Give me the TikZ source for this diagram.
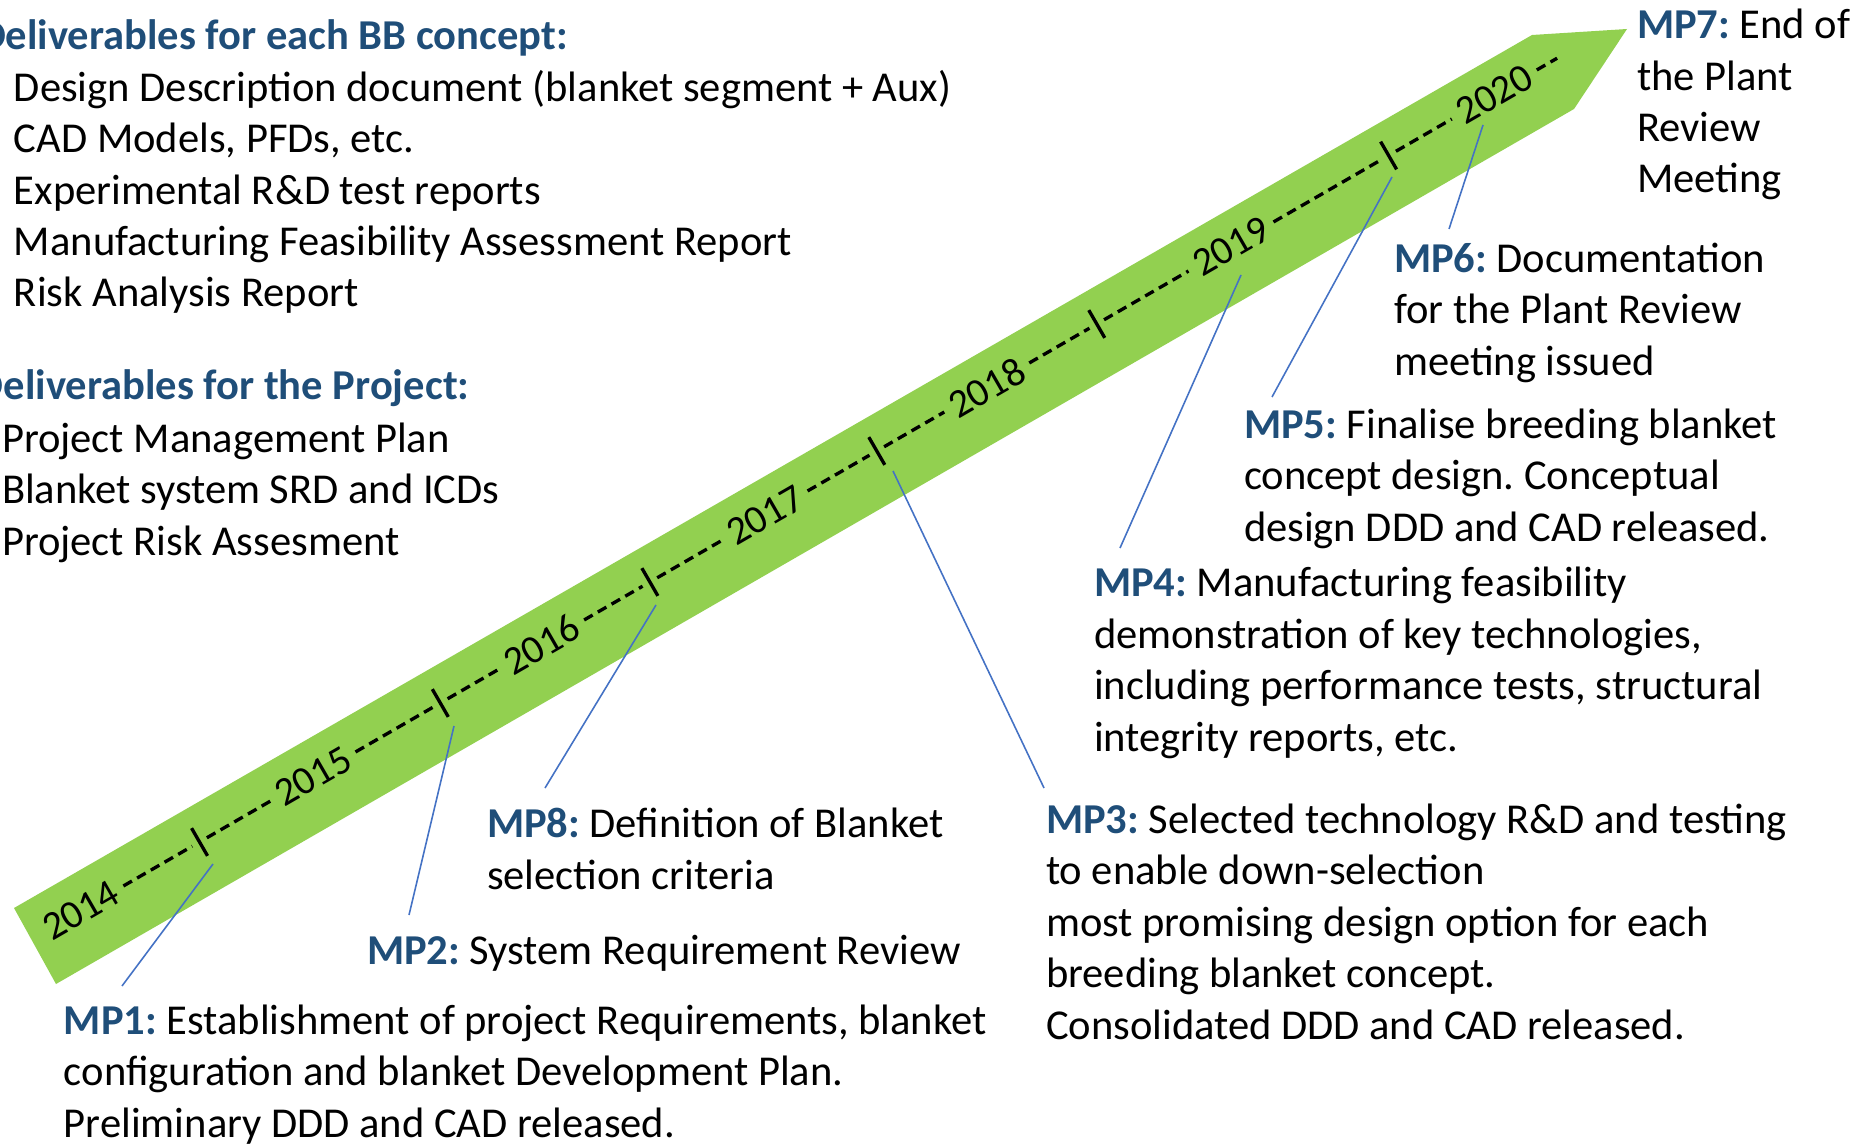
\documentclass[tikz,border=0pt]{standalone}
\usepackage{fontspec}
\setmainfont{Carlito}
\usepackage{xcolor}
\definecolor{BandGreen}{HTML}{92D050}
\definecolor{HeadBlue}{HTML}{1F4E79}
\definecolor{LeadBlue}{HTML}{4472C4}
\usepackage{tikz}
\usetikzlibrary{arrows.meta,positioning}
\newcommand{\mpname}[1]{\textcolor{HeadBlue}{\textbf{#1}}}

\begin{document}
\begin{tikzpicture}[x=0.01cm, y=0.01cm,
  every node/.style={inner sep=0pt, outer sep=0pt},
  txt/.style={anchor=base west, align=left, font=\fontsize{12.1}{14.6}\selectfont\frenchspacing},
  head/.style={txt, font=\fontsize{12.1}{14.6}\selectfont\bfseries, text=HeadBlue},
  year/.style={rotate=30, font=\fontsize{11.4}{13}\selectfont},
  dashline/.style={line width=0.95pt, dash pattern=on 2.8pt off 1.7pt, shorten <=2.4pt, shorten >=2.4pt},
  tickline/.style={line width=0.95pt},
  lead/.style={LeadBlue, line width=0.45pt}]
  \clip (0,0) rectangle (1874,-1143);

  % the green band
  \fill[BandGreen] (14,-908) -- (1532,-35) -- (1627,-29) -- (1574,-109) -- (56,-984) -- cycle;

  % years and ticks along the band
  \begin{scope}[shift={(35,-937)}, rotate=30]
    \node[year] (y14) at (53,0) {2014};
    \node[year] (y15) at (321,0) {2015};
    \node[year] (y16) at (585,0) {2016};
    \node[year] (y17) at (843,0) {2017};
    \node[year] (y18) at (1099,0) {2018};
    \node[year] (y19) at (1381,0) {2019};
    \node[year] (y20) at (1685,0) {2020};
    \coordinate (t1) at (190,0);
    \coordinate (t2) at (468,0);
    \coordinate (t3) at (710,0);
    \coordinate (t4) at (972,0);
    \coordinate (t5) at (1226,0);
    \coordinate (t6) at (1563,0);
    \coordinate (tend) at (1766,0);
  \end{scope}
  \foreach \a/\b in {y14/t1, t1/y15, y15/t2, t2/y16, y16/t3, t3/y17, y17/t4, t4/y18, y18/t5, t5/y19, y19/t6, t6/y20, y20/tend}
    \draw[dashline] (\a) -- (\b);
  \foreach \t in {t1,t2,t3,t4,t5,t6}
    \draw[tickline] (\t) ++(120:16) -- ++(300:32);

  % deliverables (base = last line)
  \node[head] (bbhead) at (-21,-50) {Deliverables for each BB concept:};
  \node[txt] (bblist) at (14,-307) {Design Description document (blanket segment + Aux)\\CAD Models, PFDs, etc.\\Experimental R\&D test reports\\Manufacturing Feasibility Assessment Report\\Risk Analysis Report};
  \node[head] (prhead) at (-23,-399.6) {Deliverables for the Project:};
  \node[txt] (prlist) at (2,-555) {Project Management Plan\\Blanket system SRD and ICDs\\Project Risk Assesment};

  % milestones
  \node[txt] (mp7) at (1637,-193) {\mpname{MP7:} End of\\the Plant\\Review\\Meeting};
  \node[txt] (mp6) at (1394,-375) {\mpname{MP6:} Documentation\\for the Plant Review\\meeting issued};
  \node[txt] (mp5) at (1244,-541) {\mpname{MP5:} Finalise breeding blanket\\concept design. Conceptual\\design DDD and CAD released.};
  \node[txt] (mp4) at (1094,-751) {\mpname{MP4:} Manufacturing feasibility\\demonstration of key technologies,\\including performance tests, structural\\integrity reports, etc.};
  \node[txt] (mp3) at (1046,-1039) {\mpname{MP3:} Selected technology R\&D and testing\\to enable down-selection\\most promising design option for each\\breeding blanket concept.\\Consolidated DDD and CAD released.};
  \node[txt] (mp8) at (487,-889) {\mpname{MP8:} Definition of Blanket\\selection criteria};
  \node[txt] (mp2) at (367,-964) {\mpname{MP2:} System Requirement Review};
  \node[txt] (mp1) at (64,-1137) {\mpname{MP1:} Establishment of project Requirements, blanket\\configuration and blanket Development Plan.\\Preliminary DDD and CAD released.};

  % leader lines
  \coordinate (p1) at (213,-864); \coordinate (q1) at (122,-986);
  \coordinate (p2) at (454,-726); \coordinate (q2) at (409,-915);
  \coordinate (p8) at (656,-605); \coordinate (q8) at (545,-788);
  \coordinate (p3) at (893,-471); \coordinate (q3) at (1044,-788);
  \coordinate (p4) at (1241,-275); \coordinate (q4) at (1120,-548);
  \coordinate (p5) at (1392,-177); \coordinate (q5) at (1272,-397);
  \coordinate (p6) at (1483,-125); \coordinate (q6) at (1449,-229);
  \foreach \i in {1,2,8,3,4,5,6}
    \draw[lead] (p\i) -- (q\i);
\end{tikzpicture}
\end{document}
